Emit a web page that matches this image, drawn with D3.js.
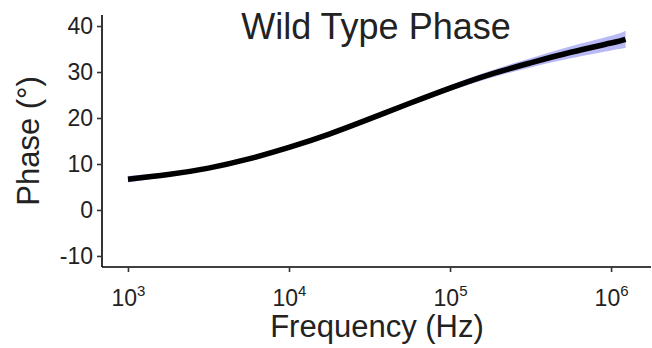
<!DOCTYPE html>
<html><head><meta charset="utf-8">
<script src="https://cdn.jsdelivr.net/npm/d3@7"></script>
<style>body{margin:0;background:#fff}svg{display:block}text{font-family:"Liberation Sans",Arial,sans-serif;fill:#222}</style>
</head><body><svg id="c" width="652" height="348"></svg>
<script>
const logFreq = [3.0, 3.25, 3.5, 3.75, 4.0, 4.25, 4.5, 4.75, 5.0, 5.25, 5.5, 5.75, 6.0, 6.09];
const phase   = [6.7, 7.7, 9.1, 11.1, 13.6, 16.5, 19.8, 23.2, 26.5, 29.5, 32.0, 34.3, 36.3, 37.1];
const band    = [0.7, 0.5, 0.4, 0.4, 0.4, 0.4, 0.4, 0.5, 0.6, 0.8, 1.0, 1.3, 1.6, 1.9];
const yTicks = [-10, 0, 10, 20, 30, 40];
const xTickExp = [3, 4, 5, 6];

const svg = d3.select("#c");
const x = d3.scaleLog().domain([Math.pow(10, 2.845), Math.pow(10, 6.248)]).range([103, 651]);
const y = d3.scaleLinear().domain([-12.4, 42.4]).range([267, 15]);

const data = logFreq.map((l, i) => ({f: Math.pow(10, l), v: phase[i], lo: phase[i] - band[i], hi: phase[i] + band[i]}));

svg.append("path").datum(data)
  .attr("d", d3.area().curve(d3.curveNatural).x(d => x(d.f)).y0(d => y(d.lo)).y1(d => y(d.hi)))
  .attr("fill", "#8080ee").attr("fill-opacity", 0.55);
svg.append("path").datum(data)
  .attr("d", d3.line().curve(d3.curveNatural).x(d => x(d.f)).y(d => y(d.v)))
  .attr("fill", "none").attr("stroke", "#000").attr("stroke-width", 5.5);

// y axis
const ya = svg.append("g").attr("transform", "translate(102,0)")
  .call(d3.axisLeft(y).tickValues(yTicks).tickSize(5).tickPadding(4).tickFormat(d3.format("d")));
ya.select(".domain").attr("d", "M0,15V267").attr("stroke", "#000").attr("stroke-width", 1.6);
ya.selectAll(".tick line").attr("stroke", "#333").attr("stroke-width", 1.6);
ya.selectAll(".tick text").attr("font-size", 23).attr("fill", "#333").style("font-family", "Liberation Sans, Arial, sans-serif")
  .text(d => d < 0 ? "-" + Math.abs(d) : d);

// x axis
const xa = svg.append("g").attr("transform", "translate(0,267)")
  .call(d3.axisBottom(x).tickValues(xTickExp.map(e => Math.pow(10, e))).tickSize(5).tickPadding(6).tickFormat(""));
xa.select(".domain").attr("d", "M102,0H651").attr("stroke", "#000").attr("stroke-width", 1.6);
xa.selectAll(".tick line").attr("stroke", "#333").attr("stroke-width", 1.6);
xa.selectAll(".tick").each(function(d, i) {
  const t = d3.select(this).append("text").attr("y", 39).attr("text-anchor", "middle")
    .attr("font-size", 23).attr("fill", "#333");
  t.append("tspan").text("10");
  t.append("tspan").attr("dy", -10).attr("font-size", 15).text(xTickExp[i]);
});

svg.append("text").attr("x", 377).attr("y", 337).attr("text-anchor", "middle")
  .attr("font-size", 31).text("Frequency (Hz)");
svg.append("text").attr("transform", "translate(39,141) rotate(-90)").attr("text-anchor", "middle")
  .attr("font-size", 31).text("Phase (°)");
svg.append("text").attr("x", 376).attr("y", 39).attr("text-anchor", "middle")
  .attr("font-size", 36).text("Wild Type Phase");
</script></body></html>
